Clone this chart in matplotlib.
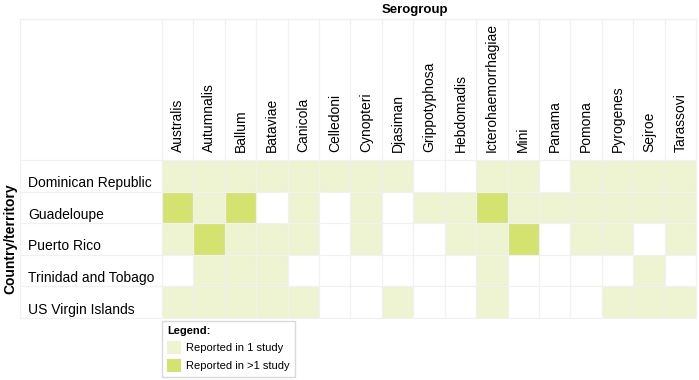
import numpy as np
import matplotlib
matplotlib.use("Agg")
import matplotlib.pyplot as plt
from matplotlib.colors import ListedColormap, BoundaryNorm
from matplotlib.patches import Patch

plt.rcParams['font.family'] = ['Liberation Sans', 'DejaVu Sans']

# -------------------------------
# Data (0 = none, 1 = one study, 2 = more than one study)
# -------------------------------
serogroups = ["Australis", "Autumnalis", "Ballum", "Bataviae", "Canicola", "Celledoni",
              "Cynopteri", "Djasiman", "Grippotyphosa", "Hebdomadis", "Icterohaemorrhagiae",
              "Mini", "Panama", "Pomona", "Pyrogenes", "Sejroe", "Tarassovi"]
countries = ["Dominican Republic", "Guadeloupe", "Puerto Rico",
             "Trinidad and Tobago", "US Virgin Islands"]

dominican = [1, 1, 1, 1, 1, 1, 1, 1, 0, 0, 1, 1, 0, 1, 1, 1, 1]
guadeloupe = [2, 1, 2, 0, 1, 0, 1, 0, 1, 1, 2, 1, 1, 1, 1, 1, 1]
puerto_rico = [1, 2, 1, 1, 1, 0, 1, 0, 0, 1, 1, 2, 0, 1, 1, 0, 1]
trinidad = [0, 1, 1, 1, 0, 0, 0, 0, 0, 0, 1, 0, 0, 0, 0, 1, 0]
us_virgin = [1, 1, 1, 1, 1, 0, 0, 1, 0, 0, 1, 0, 0, 0, 1, 1, 1]

legend_labels = ["Reported in 1 study", "Reported in >1 study"]

# -------------------------------
# Style
# -------------------------------
LIGHT = "#eef3d2"
DARK = "#d4e270"
GRID = "#f1f1f1"

W, H = 699, 380
fig = plt.figure(figsize=(W / 100, H / 100), dpi=100)

# cell area in pixels
left_px, right_px, top_px, bottom_px = 162, 696, 160, 318
ax = fig.add_axes([left_px / W, 1 - bottom_px / H,
                   (right_px - left_px) / W, (bottom_px - top_px) / H])

matrix = np.array([dominican, guadeloupe, puerto_rico, trinidad, us_virgin])
n_rows, n_cols = matrix.shape

cmap = ListedColormap(["white", LIGHT, DARK])
norm = BoundaryNorm([-0.5, 0.5, 1.5, 2.5], cmap.N)
ax.pcolormesh(np.arange(n_cols + 1), np.arange(n_rows + 1), matrix,
              cmap=cmap, norm=norm)
ax.set_xlim(0, n_cols)
ax.set_ylim(n_rows, 0)

for s in ax.spines.values():
    s.set_visible(False)

# header / label area extents in axes coords
cell_h = bottom_px - top_px
cell_w = right_px - left_px
y_top = (bottom_px - 19) / cell_h
x_left = (20 - left_px) / cell_w

# grid lines (extend into header and row label area)
ax.vlines(np.arange(n_cols + 1), 0, y_top, transform=ax.get_xaxis_transform(),
          colors=GRID, linewidth=0.9, clip_on=False, zorder=3)
ax.hlines(np.arange(n_rows + 1), x_left, 1, transform=ax.get_yaxis_transform(),
          colors=GRID, linewidth=0.9, clip_on=False, zorder=3)
ax.plot([x_left, x_left], [0, y_top], transform=ax.transAxes,
        color=GRID, linewidth=0.9, clip_on=False)
ax.plot([x_left, 1], [y_top, y_top], transform=ax.transAxes,
        color=GRID, linewidth=0.9, clip_on=False)

# column labels on top
ax.xaxis.tick_top()
ax.set_xticks(np.arange(n_cols) + 0.5)
ax.set_xticklabels(serogroups, rotation=90, fontsize=10, va="bottom")
ax.tick_params(axis="x", length=0, pad=6)
ax.set_yticks([])

# row labels, left-aligned near the bottom of each row
for i, name in enumerate(countries):
    ax.text((28 - left_px) / cell_w, i + 0.86, name, fontsize=10,
            ha="left", va="baseline", transform=ax.get_yaxis_transform())

# titles
fig.text(415 / W, 1 - 10 / H, "Serogroup", fontsize=9.5, fontweight="bold",
         ha="center", va="center")
fig.text(10 / W, 1 - 239 / H, "Country/territory", fontsize=10, fontweight="bold",
         rotation=90, ha="center", va="center")

# legend
handles = [Patch(facecolor=LIGHT, edgecolor="none"),
           Patch(facecolor=DARK, edgecolor="none")]
leg = fig.legend(handles, legend_labels, loc="upper left",
                 bbox_to_anchor=(left_px / W, 1 - 321 / H),
                 title="Legend:", title_fontproperties={"weight": "bold", "size": 8},
                 alignment="left", fontsize=8, frameon=True, fancybox=False,
                 edgecolor="#d0d0d0", borderpad=0.45, handlelength=1.3,
                 handleheight=1.4, handletextpad=0.45, labelspacing=0.45,
                 borderaxespad=0)
leg.get_frame().set_linewidth(1)

fig.savefig("out.png", dpi=100)
